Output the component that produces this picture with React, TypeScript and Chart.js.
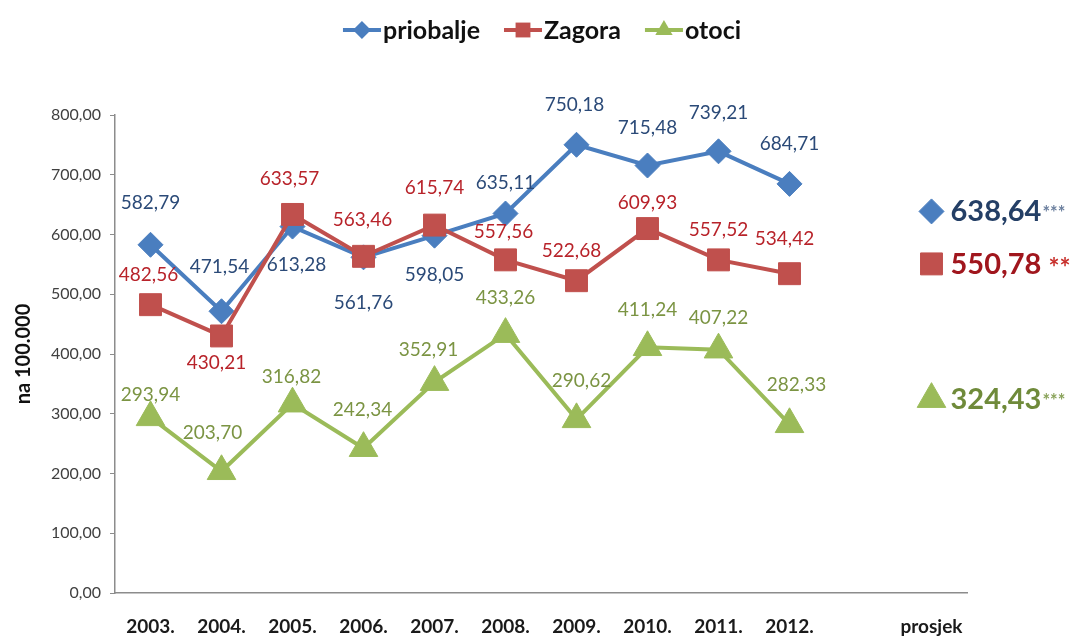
import React, { useEffect, useRef } from 'react';
import { Chart, registerables } from 'chart.js';

Chart.register(...registerables);

// ---------- data ----------
const YEARS = ['2003.', '2004.', '2005.', '2006.', '2007.', '2008.', '2009.', '2010.', '2011.', '2012.'];
const AVG_CATEGORY = 'prosjek';
const SERIES_NAMES = ['priobalje', 'Zagora', 'otoci'];
const PRIOBALJE = [582.79, 471.54, 613.28, 561.76, 598.05, 635.11, 750.18, 715.48, 739.21, 684.71];
const ZAGORA = [482.56, 430.21, 633.57, 563.46, 615.74, 557.56, 522.68, 609.93, 557.52, 534.42];
const OTOCI = [293.94, 203.7, 316.82, 242.34, 352.91, 433.26, 290.62, 411.24, 407.22, 282.33];
const AVERAGES = [638.64, 550.78, 324.43];
const SIGNIFICANCE = ['***', '**', '***'];
const Y_MIN = 0;
const Y_MAX = 800;
const Y_STEP = 100;
const Y_TITLE = 'na 100.000';

// ---------- styles ----------
const LINE_COLORS = ['#4a7ebf', '#c0504d', '#9bbb59'];
const LABEL_COLORS = ['#2b4a78', '#b8232a', '#7b9443'];
const AVG_COLORS = ['#243f66', '#a0161d', '#6f8a3a'];
const STAR_COLORS = ['#6b7f9e', '#c8302c', '#8aa35a'];
const POINT_STYLES = ['rectRot', 'rect', 'triangle'];
const POINT_RADII = [12.5, 15.5, 16.5];
// label offsets (px) relative to each point
const LABEL_DX = [
  [0, -2, 4, 0, 0, 0, -2, 0, 0, 0],
  [-2, -5, -3, -1, 0, -2, -5, 0, 0, -5],
  [0, -9, -1, -1, -6, 0, 5, 0, 0, 7],
];
const LABEL_DY = [
  [-42, -44, 38, 46, 39, -31, -40, -38, -38, -40],
  [-30, 27, -36, -36, -37, -28, -30, -26, -30, -35],
  [-22, -38, -27, -38, -32, -36, -38, -37, -32, -39],
];

const FONT = 'Lato, "Open Sans", sans-serif';
const fmt = (v: number) => v.toFixed(2).replace('.', ',');

function drawMarker(ctx: CanvasRenderingContext2D, style: string, x: number, y: number, r: number, color: string) {
  ctx.beginPath();
  if (style === 'rectRot') {
    ctx.moveTo(x - r, y);
    ctx.lineTo(x, y - r);
    ctx.lineTo(x + r, y);
    ctx.lineTo(x, y + r);
  } else if (style === 'rect') {
    const s = Math.SQRT1_2 * r;
    ctx.rect(x - s, y - s, 2 * s, 2 * s);
  } else {
    ctx.moveTo(x, y - r);
    ctx.lineTo(x + (Math.sqrt(3) / 2) * r, y + r / 2);
    ctx.lineTo(x - (Math.sqrt(3) / 2) * r, y + r / 2);
  }
  ctx.closePath();
  ctx.fillStyle = color;
  ctx.fill();
}

const legendPlugin = {
  id: 'topLegend',
  afterDraw(chart: any) {
    const ctx: CanvasRenderingContext2D = chart.ctx;
    ctx.save();
    ctx.font = `bold 25px ${FONT}`;
    const iconW = 38;
    const gapText = 2;
    const gapItem = 24;
    const widths = SERIES_NAMES.map((n) => iconW + gapText + ctx.measureText(n).width);
    const total = widths.reduce((a, b) => a + b, 0) + gapItem * (SERIES_NAMES.length - 1);
    let x = (chart.width - total) / 2;
    const y = 30;
    const legendR = [9, 10.5, 10];
    SERIES_NAMES.forEach((name, i) => {
      ctx.strokeStyle = LINE_COLORS[i];
      ctx.lineWidth = 4;
      ctx.beginPath();
      ctx.moveTo(x, y);
      ctx.lineTo(x + iconW, y);
      ctx.stroke();
      drawMarker(ctx, POINT_STYLES[i], x + iconW / 2, y, legendR[i], LINE_COLORS[i]);
      ctx.fillStyle = '#111111';
      ctx.textAlign = 'left';
      ctx.textBaseline = 'middle';
      ctx.fillText(name, x + iconW + gapText, y + 1);
      x += widths[i] + gapItem;
    });
    ctx.restore();
  },
};

const labelPlugin = {
  id: 'valueLabels',
  afterDatasetsDraw(chart: any) {
    const ctx: CanvasRenderingContext2D = chart.ctx;
    ctx.save();
    const seriesValues = [PRIOBALJE, ZAGORA, OTOCI];
    seriesValues.forEach((vals, i) => {
      const meta = chart.getDatasetMeta(i);
      ctx.font = `19px ${FONT}`;
      ctx.fillStyle = LABEL_COLORS[i];
      ctx.textAlign = 'center';
      ctx.textBaseline = 'middle';
      vals.forEach((v, j) => {
        const el = meta.data[j];
        if (!el) return;
        ctx.fillText(fmt(v), el.x + LABEL_DX[i][j], el.y + LABEL_DY[i][j]);
      });
      // average label
      const am = chart.getDatasetMeta(3 + i);
      const ael = am.data[YEARS.length + 1];
      if (ael) {
        ctx.textAlign = 'left';
        ctx.textBaseline = 'alphabetic';
        ctx.font = `bold 29px ${FONT}`;
        ctx.fillStyle = AVG_COLORS[i];
        const tx = ael.x + 19;
        const base = ael.y + 10;
        const numText = fmt(AVERAGES[i]);
        ctx.fillText(numText, tx, base);
        const w = ctx.measureText(numText).width;
        const star = SIGNIFICANCE[i];
        ctx.fillStyle = STAR_COLORS[i];
        if (star.length === 2) {
          ctx.font = `bold 26px ${FONT}`;
          ctx.fillText(star, tx + w + 7, base + 3);
        } else {
          ctx.font = `bold 18px ${FONT}`;
          ctx.fillText(star, tx + w + 1, base - 2);
        }
      }
    });
    ctx.restore();
  },
};

export default function App() {
  const ref = useRef<HTMLCanvasElement | null>(null);

  useEffect(() => {
    document.body.style.margin = '0';
    const canvas = ref.current;
    if (!canvas) return;
    const labels = [...YEARS, '', AVG_CATEGORY];
    const pad = (arr: number[]) => [...arr, null, null];
    const avgData = (v: number) => [...YEARS.map(() => null), null, v];
    const series = [PRIOBALJE, ZAGORA, OTOCI];

    const datasets: any[] = series.map((vals, i) => ({
      label: SERIES_NAMES[i],
      data: pad(vals),
      borderColor: LINE_COLORS[i],
      backgroundColor: LINE_COLORS[i],
      borderWidth: 4,
      pointStyle: POINT_STYLES[i],
      pointRadius: POINT_RADII[i],
      pointBackgroundColor: LINE_COLORS[i],
      pointBorderColor: LINE_COLORS[i],
      pointBorderWidth: 1,
      tension: 0,
      clip: false,
      order: 3 - i,
    }));
    AVERAGES.forEach((v, i) => {
      datasets.push({
        label: SERIES_NAMES[i] + ' prosjek',
        data: avgData(v),
        showLine: false,
        borderColor: LINE_COLORS[i],
        backgroundColor: LINE_COLORS[i],
        pointStyle: POINT_STYLES[i],
        pointRadius: POINT_RADII[i],
        pointBackgroundColor: LINE_COLORS[i],
        pointBorderColor: LINE_COLORS[i],
        pointBorderWidth: 1,
        clip: false,
        order: 0,
      });
    });

    const chart = new Chart(canvas, {
      type: 'line',
      data: { labels, datasets },
      options: {
        responsive: false,
        animation: false,
        layout: { padding: { top: 115, right: 117, left: 0, bottom: 0 } },
        plugins: {
          legend: { display: false },
          tooltip: { enabled: false },
        },
        scales: {
          x: {
            type: 'category',
            offset: true,
            grid: { display: false },
            border: { display: true, color: '#8c8c8c', width: 1.5 },
            ticks: {
              autoSkip: false,
              maxRotation: 0,
              padding: 14,
              color: '#1a1a1a',
              font: { family: FONT, size: 19, weight: 'bold' },
            },
            afterFit: (scale: any) => {
              scale.height = 50;
            },
          },
          y: {
            min: Y_MIN,
            max: Y_MAX,
            grid: { drawOnChartArea: false, drawTicks: true, tickLength: 5, color: '#8c8c8c' },
            border: { display: true, color: '#8c8c8c', width: 1.5 },
            ticks: {
              stepSize: Y_STEP,
              padding: 9,
              color: '#404040',
              font: { family: FONT, size: 16 },
              callback: (v: any) => fmt(Number(v)),
            },
            title: {
              display: true,
              text: Y_TITLE,
              color: '#111111',
              font: { family: FONT, size: 20, weight: 'bold' },
              padding: { top: 12, bottom: 0 },
            },
            afterFit: (scale: any) => {
              scale.width = 115;
            },
          },
        },
      },
      plugins: [labelPlugin, legendPlugin],
    } as any);

    return () => chart.destroy();
  }, []);

  return (
    <div style={{ width: 1084, height: 643, background: '#ffffff' }}>
      <canvas ref={ref} width={1084} height={643} style={{ display: 'block' }} />
    </div>
  );
}
